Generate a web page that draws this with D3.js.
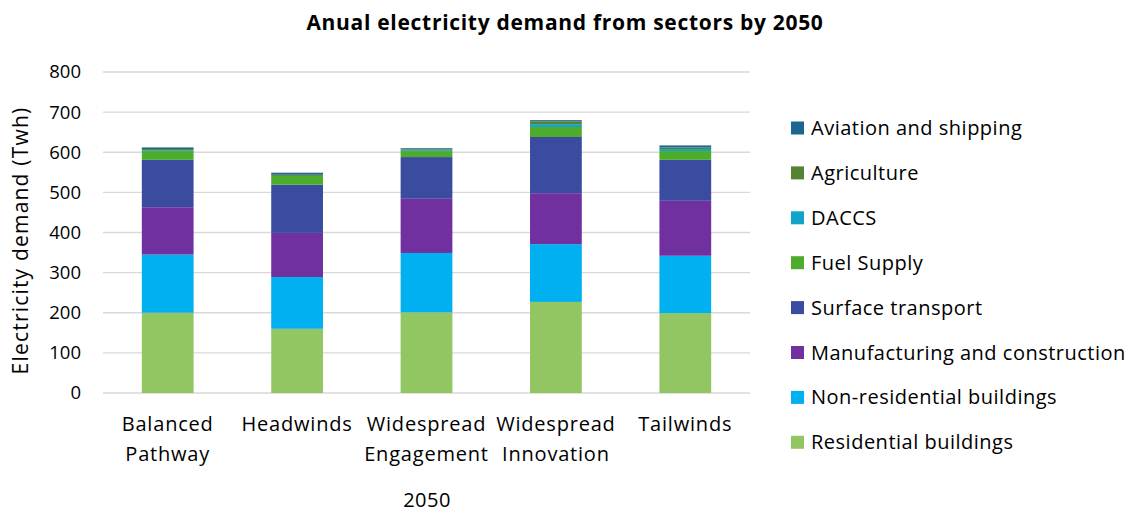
<!DOCTYPE html>
<html>
<head>
<meta charset="utf-8">
<script src="https://cdn.jsdelivr.net/npm/d3@7"></script>
<style>
  body { margin: 0; background: #fff; }
  text { font-family: "Open Sans", "Lato", sans-serif; fill: #000; }
</style>
</head>
<body>
<div id="plot"></div>
<script>
// Chart data
const scenarios = ["Balanced Pathway", "Headwinds", "Widespread Engagement", "Widespread Innovation", "Tailwinds"];
const sectors = ["Residential buildings", "Non-residential buildings", "Manufacturing and construction",
  "Surface transport", "Fuel Supply", "DACCS", "Agriculture", "Aviation and shipping"];
const residential = [200, 160, 201, 227, 199];
const nonResidential = [145, 129, 148, 144, 143];
const manufacturing = [118, 110, 135, 127, 137];
const surfaceTransport = [118, 120, 104, 140, 102];
const fuelSupply = [22, 22, 15, 25, 22];
const daccs = [2, 0, 2, 7, 5];
const agriculture = [3, 3, 2, 7, 4];
const aviation = [4, 5, 3, 3, 5];
const yTicks = [0, 100, 200, 300, 400, 500, 600, 700, 800];
const colors = ["#92c663", "#00b0f0", "#7030a0", "#3a4ba0", "#4eac2c", "#12a3c9", "#568234", "#1d6690"];

const seriesValues = [residential, nonResidential, manufacturing, surfaceTransport,
  fuelSupply, daccs, agriculture, aviation];

// Build rows for stack
const rows = scenarios.map((s, i) => {
  const r = { scenario: s };
  sectors.forEach((k, j) => { r[k] = seriesValues[j][i]; });
  return r;
});

const W = 1131, H = 512;
const margin = { top: 72, left: 103, right: 381, bottom: 119 };
const width = W - margin.left - margin.right;
const height = H - margin.top - margin.bottom;

const svg = d3.select("#plot").append("svg")
  .attr("width", W).attr("height", H);

const g = svg.append("g")
  .attr("transform", `translate(${margin.left}, ${margin.top})`);

const x = d3.scaleBand().domain(scenarios).range([0, width]).paddingInner(0.6).paddingOuter(0.3);
const y = d3.scaleLinear().domain([0, 800]).range([height, 0]);

// Gridlines
g.append("g")
  .selectAll("line")
  .data(yTicks)
  .enter().append("line")
  .attr("x1", 0).attr("x2", width)
  .attr("y1", d => y(d)).attr("y2", d => y(d))
  .attr("stroke", "#d9d9d9").attr("stroke-width", 1.3);

// Y axis labels
const yAxis = g.append("g")
  .call(d3.axisLeft(y).tickValues(yTicks).tickSize(0).tickPadding(22));
yAxis.select(".domain").remove();
yAxis.selectAll("text").style("font-size", "18.5px").attr("fill", "#000");

// Stacked bars
const stack = d3.stack().keys(sectors);
const layers = stack(rows);

g.selectAll(".layer")
  .data(layers)
  .enter().append("g")
  .attr("class", "layer")
  .attr("fill", (d, i) => colors[i])
  .selectAll("rect")
  .data(d => d)
  .enter().append("rect")
  .attr("x", d => x(d.data.scenario))
  .attr("y", d => y(d[1]))
  .attr("width", x.bandwidth())
  .attr("height", d => y(d[0]) - y(d[1]));

// X axis labels (wrapped)
const xLabels = g.append("g")
  .attr("transform", `translate(0, ${height})`);
scenarios.forEach(s => {
  const words = s.split(" ");
  const t = xLabels.append("text")
    .attr("x", x(s) + x.bandwidth() / 2)
    .attr("y", 38)
    .attr("text-anchor", "middle")
    .style("font-size", "20px")
    .style("letter-spacing", "0.8px");
  words.forEach((w, i) => {
    t.append("tspan")
      .attr("x", x(s) + x.bandwidth() / 2)
      .attr("dy", i === 0 ? 0 : 30)
      .text(w);
  });
});

// Title
svg.append("text")
  .attr("x", 565).attr("y", 30)
  .attr("text-anchor", "middle")
  .style("font-size", "21px")
  .style("font-weight", "bold")
  .style("letter-spacing", "0.7px")
  .text("Anual electricity demand from sectors by 2050");

// Axis titles
svg.append("text")
  .attr("transform", `translate(28, ${margin.top + height / 2 + 8}) rotate(-90)`)
  .attr("text-anchor", "middle")
  .style("font-size", "21px")
  .style("letter-spacing", "1.2px")
  .text("Electricity demand (Twh)");

svg.append("text")
  .attr("x", 427).attr("y", 507)
  .attr("text-anchor", "middle")
  .style("font-size", "20px")
  .style("letter-spacing", "0.5px")
  .text("2050");

// Legend (reverse order, top = last series)
const legend = svg.append("g").attr("transform", "translate(791, 128)");
const legendItems = sectors.slice().reverse();
legendItems.forEach((s, i) => {
  const row = legend.append("g").attr("transform", `translate(0, ${i * 44.9})`);
  row.append("rect")
    .attr("x", 0).attr("y", -6.5).attr("width", 13).attr("height", 13)
    .attr("fill", colors[sectors.indexOf(s)]);
  row.append("text")
    .attr("x", 20).attr("y", 7)
    .style("font-size", "20px")
    .style("letter-spacing", "0.5px")
    .text(s);
});
</script>
</body>
</html>
